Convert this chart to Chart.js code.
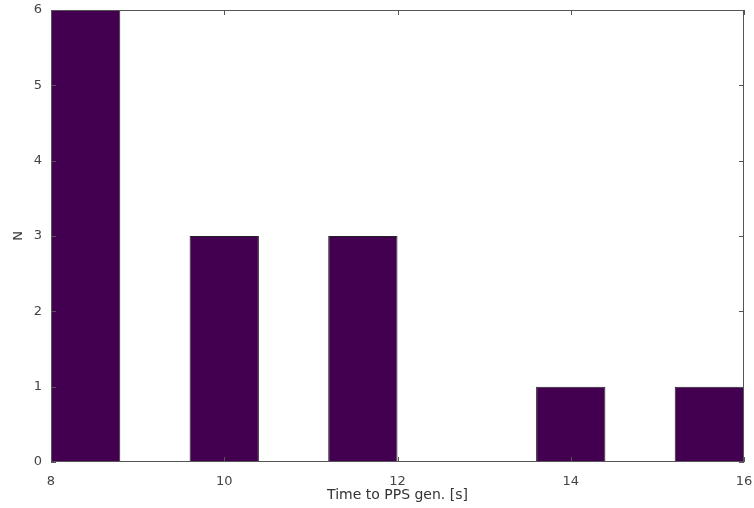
<!DOCTYPE html>
<html>
<head>
<meta charset="utf-8">
<script src="https://cdn.jsdelivr.net/npm/chart.js@4"></script>
<style>
  html, body { margin: 0; padding: 0; background: #fff; }
  #wrap { width: 754px; height: 508px; }
</style>
</head>
<body>
<div id="wrap"><canvas id="histChart" width="754" height="508"></canvas></div>
<script>
// bin centres (s) and counts
const binCenters = [8.4, 10.0, 11.6, 14.0, 15.6];
const counts = [6, 3, 3, 1, 1];
const xTicks = [8, 10, 12, 14, 16];
const yTicks = [0, 1, 2, 3, 4, 5, 6];

// frame + inward ticks on all four sides, octave style
const frameTicks = {
    id: 'frameTicks',
    afterDraw(chart) {
        const { ctx, chartArea: a, scales } = chart;
        ctx.save();
        ctx.strokeStyle = '#555';
        ctx.lineWidth = 1;
        ctx.strokeRect(a.left + 0.5, a.top + 0.5, a.right - a.left - 1, a.bottom - a.top - 1);
        const len = 5;
        ctx.beginPath();
        xTicks.forEach(v => {
            const x = Math.round(scales.x.getPixelForValue(v)) + 0.5;
            ctx.moveTo(x, a.bottom); ctx.lineTo(x, a.bottom - len);
            ctx.moveTo(x, a.top); ctx.lineTo(x, a.top + len);
        });
        yTicks.forEach(v => {
            const y = Math.round(scales.y.getPixelForValue(v)) + 0.5;
            ctx.moveTo(a.left, y); ctx.lineTo(a.left + len, y);
            ctx.moveTo(a.right, y); ctx.lineTo(a.right - len, y);
        });
        ctx.stroke();
        ctx.restore();
    }
};

new Chart(document.getElementById('histChart'), {
    type: 'bar',
    data: {
        datasets: [{
            data: binCenters.map((c, i) => ({ x: c, y: counts[i] })),
            backgroundColor: '#440050',
            borderColor: '#222',
            borderWidth: 1,
            barPercentage: 0.5,
            categoryPercentage: 1.0
        }]
    },
    options: {
        responsive: false,
        animation: false,
        layout: { padding: { left: 0, top: 10, right: 10, bottom: 0 } },
        plugins: { legend: { display: false }, tooltip: { enabled: false } },
        scales: {
            x: {
                type: 'linear',
                min: 8, max: 16,
                offset: false,
                grid: { display: false, drawTicks: false },
                border: { display: false },
                afterBuildTicks: s => { s.ticks = xTicks.map(v => ({ value: v })); },
                afterFit: s => { s.height = 46; s.paddingLeft = 0; s.paddingRight = 0; },
                ticks: {
                    padding: 12,
                    maxRotation: 0,
                    color: '#444',
                    font: { family: 'DejaVu Sans', size: 13 }
                },
                title: {
                    display: true,
                    text: 'Time to PPS gen. [s]',
                    color: '#333',
                    padding: { top: 0, bottom: 4 },
                    font: { family: 'DejaVu Sans', size: 14 }
                }
            },
            y: {
                min: 0, max: 6,
                grid: { display: false, drawTicks: false },
                border: { display: false },
                afterBuildTicks: s => { s.ticks = yTicks.map(v => ({ value: v })); },
                afterFit: s => { s.width = 51; s.paddingTop = 0; s.paddingBottom = 0; },
                ticks: {
                    padding: 9,
                    color: '#444',
                    font: { family: 'DejaVu Sans', size: 13 }
                },
                title: {
                    display: true,
                    text: 'N',
                    color: '#333',
                    padding: { top: 11, bottom: 0 },
                    font: { family: 'DejaVu Sans', size: 13 }
                }
            }
        }
    },
    plugins: [frameTicks]
});
</script>
</body>
</html>
